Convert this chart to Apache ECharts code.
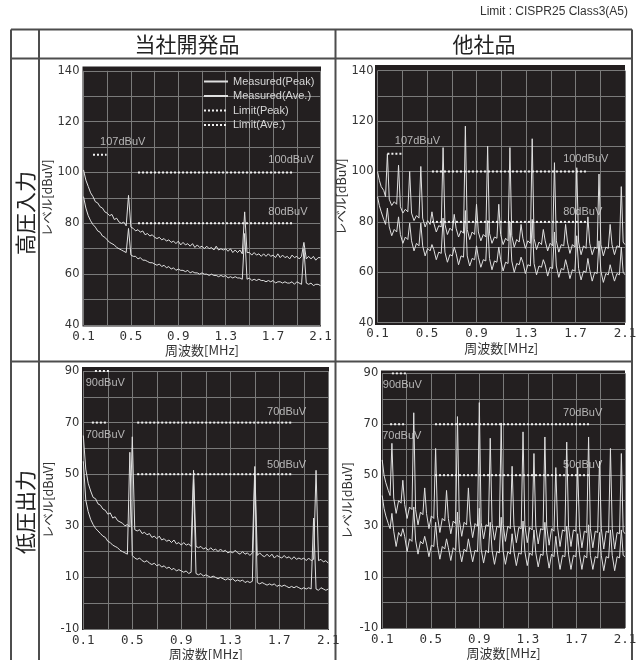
<!DOCTYPE html>
<html>
  <head>
    <meta charset="utf-8">
    <title>伝導ノイズ比較</title>
    <script src="https://cdn.jsdelivr.net/npm/echarts@6/dist/echarts.min.js"></script>
    <style>
      html, body { margin: 0; padding: 0; background: #fff; }
    </style>
  </head>
  <body>
    <div id="chart" style="width: 636px; height: 660px;"></div>
    <script type="text/javascript">
      // frequency grid for our product [MHz]
      var fqOurs = [
        0.10, 0.12, 0.14, 0.16, 0.18, 0.20, 0.22, 0.24, 0.26, 0.28,
        0.30, 0.32, 0.34, 0.36, 0.38, 0.40, 0.42, 0.44, 0.46, 0.48,
        0.50, 0.52, 0.54, 0.56, 0.58, 0.60, 0.62, 0.64, 0.66, 0.68,
        0.70, 0.72, 0.74, 0.76, 0.78, 0.80, 0.82, 0.84, 0.86, 0.88,
        0.90, 0.92, 0.94, 0.96, 0.98, 1.00, 1.02, 1.04, 1.06, 1.08,
        1.10, 1.12, 1.14, 1.16, 1.18, 1.20, 1.22, 1.24, 1.26, 1.28,
        1.30, 1.32, 1.34, 1.36, 1.38, 1.40, 1.42, 1.44, 1.46, 1.48,
        1.50, 1.52, 1.54, 1.56, 1.58, 1.60, 1.62, 1.64, 1.66, 1.68,
        1.70, 1.72, 1.74, 1.76, 1.78, 1.80, 1.82, 1.84, 1.86, 1.88,
        1.90, 1.92, 1.94, 1.96, 1.98, 2.00, 2.02, 2.04, 2.06, 2.08,
        2.10
      ];
      // 高圧入力 / 当社開発品
      var pkHiOurs = [
        101, 97, 94.5, 92, 90.5, 88.5, 88, 86.5, 86, 84.5,
        84, 83, 83.5, 81.5, 82, 80.5, 80, 80.5, 79, 91,
        78.5, 78, 77, 77.5, 76.5, 77, 75.5, 76, 75, 75.5,
        74.5, 74, 74.5, 73.5, 74, 73, 73.5, 72.5, 73, 72,
        73, 71.5, 72.5, 71.5, 72, 71, 72, 70.5, 71.5, 70.5,
        71, 70, 71, 70, 70.5, 69.5, 71, 69.5, 70, 69.5,
        70, 69, 70, 68.5, 69.5, 68.5, 69.5, 68, 84.5, 68.5,
        68.5, 67.5, 68.5, 67.5, 68, 67, 68, 67, 68, 67,
        67.5, 66.5, 68, 66.5, 67.5, 66.5, 67, 66, 67.5, 66.5,
        67, 66, 67, 72.5, 66, 67, 66, 67, 65.5, 66.5,
        66.5
      ];
      var avHiOurs = [
        90.5, 86, 83, 81, 79.5, 78.5, 77, 76.5, 75, 74.5,
        73.5, 72.5, 72, 71.5, 70.5, 70, 69.5, 69, 68.5, 78,
        67.5, 67, 67, 66, 66.5, 65.5, 65.5, 65, 64.5, 64.5,
        64, 63.5, 64, 63, 63.5, 62.5, 63, 62, 62.5, 61.5,
        62, 61.5, 61.5, 61, 61.5, 60.5, 61, 60.5, 60.5, 60,
        60.5, 60, 60, 59.5, 60, 59.5, 59.5, 59, 59.5, 59,
        59.5, 58.5, 59, 58.5, 59, 58.5, 58.5, 58, 76, 58,
        58.5, 57.5, 58, 57.5, 58, 57.5, 57.5, 57, 57.5, 57,
        57.5, 56.5, 57, 57, 56.5, 57, 56.5, 56.5, 57, 56,
        57, 56.5, 56, 70, 56.5, 56, 56.5, 55.5, 56, 56,
        55.5
      ];
      // 低圧出力 / 当社開発品
      var pkLoOurs = [
        65, 52, 46.5, 43.5, 41, 40.5, 38.5, 38, 36.5, 36,
        34.5, 35, 33, 33.5, 32, 31.5, 31, 30, 30.5, 29.5,
        64.5, 28.5, 28, 28.5, 27, 27.5, 26.5, 27, 25.5, 26,
        25, 26, 24.5, 25, 24, 24.5, 23.5, 24.5, 23, 23.5,
        22.5, 23.5, 22.5, 23, 22, 51.5, 22, 21.5, 22, 21,
        21.5, 20.5, 21.5, 20.5, 21, 20, 21, 20, 20.5, 19.5,
        20, 19.5, 20.5, 19.5, 19, 20, 19, 19.5, 18.5, 19.5,
        53, 18.5, 19.5, 18.5, 18, 19, 18, 19, 17.5, 18.5,
        18, 17.5, 18.5, 17.5, 18, 17, 18, 17, 17.5, 17,
        17.5, 16.5, 17.5, 16.5, 17, 51.5, 16.5, 17, 16, 16.5,
        15.5
      ];
      var avLoOurs = [
        55, 40, 35.5, 32.5, 30.5, 29, 28, 27, 26, 25.5,
        24, 23.5, 22.5, 22, 21.5, 20.5, 20, 19.5, 19, 58.5,
        18.5, 17.5, 17, 17.5, 16.5, 16, 16.5, 15.5, 15, 15.5,
        14.5, 15, 14, 14.5, 13.5, 14, 13, 13.5, 12.5, 13,
        12.5, 12, 12.5, 11.5, 12, 48, 11.5, 11, 11.5, 10.5,
        11, 10.5, 10, 10.5, 10, 9.5, 10, 9.5, 9, 9.5,
        9, 9.5, 8.5, 9, 8.5, 9, 8, 8.5, 8, 8.5,
        50, 8, 7.5, 8, 7.5, 7, 7.5, 7, 7.5, 6.5,
        7, 6.5, 7, 6.5, 6, 6.5, 6, 6.5, 6, 5.5,
        6, 5.5, 6, 5.5, 33, 5.5, 5, 6, 5.5, 5,
        5.5
      ];

      // frequency points for the competitor (harmonics every ~0.09 MHz)
      var fqOther = [
        0.10, 0.115, 0.13, 0.15, 0.165,
        0.18, 0.195, 0.215, 0.235, 0.255,
        0.27, 0.285, 0.305, 0.325, 0.345,
        0.36, 0.375, 0.395, 0.415, 0.435,
        0.45, 0.465, 0.485, 0.505, 0.525,
        0.54, 0.555, 0.575, 0.595, 0.615,
        0.63, 0.645, 0.665, 0.685, 0.705,
        0.72, 0.735, 0.755, 0.775, 0.795,
        0.81, 0.825, 0.845, 0.865, 0.885,
        0.90, 0.915, 0.935, 0.955, 0.975,
        0.99, 1.005, 1.025, 1.045, 1.065,
        1.08, 1.095, 1.115, 1.135, 1.155,
        1.17, 1.185, 1.205, 1.225, 1.245,
        1.26, 1.275, 1.295, 1.315, 1.335,
        1.35, 1.365, 1.385, 1.405, 1.425,
        1.44, 1.455, 1.475, 1.495, 1.515,
        1.53, 1.545, 1.565, 1.585, 1.605,
        1.62, 1.635, 1.655, 1.675, 1.695,
        1.71, 1.725, 1.745, 1.765, 1.785,
        1.80, 1.815, 1.835, 1.855, 1.875,
        1.89, 1.905, 1.925, 1.945, 1.965,
        1.98, 1.995, 2.015, 2.035, 2.055,
        2.07, 2.085, 2.10
      ];
      // 高圧入力 / 他社品
      var pkHiOther = [
        100, 96.5, 94, 92.5, 90,
        107, 89, 86.5, 88, 87,
        102.5, 86, 83.5, 85, 84,
        100, 83.5, 80.5, 82.5, 81.5,
        102, 81.5, 78, 80.5, 79,
        84, 79.5, 76, 78.5, 78,
        109.5, 79, 75, 77.5, 76.5,
        83, 77.5, 74, 76.5, 75.5,
        118, 77, 73, 76, 75,
        87, 76, 72.5, 75, 74,
        110, 75.5, 71.5, 74, 73.5,
        87, 75, 71, 73.5, 72.5,
        109.5, 74.5, 70, 73, 72,
        79, 73.5, 69.5, 72.5, 71.5,
        113, 73.5, 69, 72, 71,
        77, 72.5, 68.5, 71.5, 70.5,
        103.5, 72.5, 68, 71, 70.5,
        79, 72, 67.5, 71, 70,
        101.5, 72, 67, 70.5, 69.5,
        82, 71.5, 67, 70, 69.5,
        99, 71, 66.5, 70, 69.5,
        79, 71, 67, 70.5, 70,
        94, 72, 71
      ];
      var avHiOther = [
        90, 86.5, 84, 81, 79,
        85.5, 78, 74.5, 77, 76,
        82, 75, 71.5, 74, 73,
        79.5, 72.5, 68.5, 71.5, 70.5,
        79.5, 70.5, 66.5, 69.5, 68.5,
        71, 69, 65, 68, 67.5,
        81.5, 68, 64, 67, 66.5,
        70, 67.5, 63, 66.5, 66,
        84.5, 66.5, 62.5, 65.5, 65,
        70.5, 66, 62, 65, 64.5,
        80.5, 65.5, 61, 64.5, 64,
        70, 65, 60.5, 64, 63.5,
        80, 64.5, 60, 63.5, 63,
        66, 64, 59.5, 63, 62.5,
        81, 63.5, 59, 62.5, 62,
        65, 63, 58.5, 62, 61.5,
        76, 62.5, 58, 61.5, 61,
        65, 62, 57.5, 61, 60.5,
        74.5, 61.5, 57, 60.5, 60,
        65.5, 61, 56.5, 60, 59.5,
        72.5, 60.5, 56, 59.5, 59,
        63, 60, 56.5, 59.5, 59,
        70, 60, 59
      ];
      // 低圧出力 / 他社品
      var pkLoOther = [
        56, 50, 47, 44, 42,
        62.5, 41, 35, 40, 39,
        48, 38.5, 33, 37.5, 36.5,
        74.5, 36.5, 30.5, 35.5, 34.5,
        45, 35, 29, 34, 33,
        60.5, 34, 27.5, 33, 32,
        44, 33, 27, 32, 31,
        73, 32.5, 26, 31.5, 30.5,
        45, 32, 25.5, 31, 30,
        78.5, 31.5, 25, 30.5, 30,
        64.5, 31, 24.5, 30, 29.5,
        70.5, 31, 24, 30, 29,
        53.5, 30.5, 23.5, 29.5, 29,
        67, 30.5, 23.5, 29.5, 28.5,
        58.5, 30, 23, 29, 28.5,
        65, 30, 22.5, 29, 28,
        53, 29.5, 22, 28.5, 28,
        63, 29.5, 22, 28.5, 28,
        53, 29.5, 21.5, 28, 27.5,
        65, 29, 21.5, 28, 27.5,
        55.5, 29, 21, 28, 27.5,
        60.5, 29, 21, 27.5, 27,
        58.5, 28, 27
      ];
      var avLoOther = [
        42, 37, 34, 31, 29,
        35, 28, 22, 27.5, 26,
        29, 26, 20, 25, 24,
        37.5, 24.5, 19, 24, 23,
        26, 23, 18, 22.5, 22,
        31.5, 22.5, 17, 22, 21,
        25, 21.5, 16.5, 21.5, 20.5,
        35.5, 21, 16, 21, 20,
        25, 21, 16, 20.5, 20,
        37, 21, 15.5, 20.5, 19.5,
        31.5, 20.5, 15, 20, 19.5,
        33.5, 20.5, 15, 20, 19,
        27, 20, 14.5, 19.5, 19,
        32, 20, 14.5, 19.5, 18.5,
        28.5, 19.5, 14, 19, 18.5,
        31.5, 19.5, 13.5, 19, 18,
        26, 19, 13, 18.5, 18,
        30, 19, 13, 18.5, 18,
        27, 19, 13, 18.5, 17.5,
        30.5, 18.5, 13, 18, 17.5,
        27.5, 18.5, 12.5, 18, 17.5,
        28.5, 18.5, 12.5, 18, 17.5,
        28.5, 18.5, 18
      ];

      // limit segments: [from MHz, to MHz, dBuV]
      var limHiOursPk = [[0.18, 0.295, 107], [0.56, 1.86, 100]];
      var limHiOursAv = [[0.56, 1.86, 80]];
      var limHiOtherPk = [[0.18, 0.295, 107], [0.54, 1.80, 100]];
      var limHiOtherAv = [[0.54, 1.80, 80]];
      var limLoOursPk = [[0.195, 0.315, 90], [0.54, 1.80, 70]];
      var limLoOursAv = [[0.17, 0.30, 70], [0.54, 1.80, 50]];
      var limLoOtherPk = [[0.18, 0.30, 90], [0.535, 1.81, 70]];
      var limLoOtherAv = [[0.165, 0.29, 70], [0.535, 1.81, 50]];

      // limit captions: [MHz, dBuV, text]
      var capHiOurs = [[0.24, 112, '107dBuV'], [1.66, 105, '100dBuV'], [1.66, 84.5, '80dBuV']];
      var capHiOther = [[0.24, 112, '107dBuV'], [1.60, 105, '100dBuV'], [1.60, 84, '80dBuV']];
      var capLoOurs = [[0.12, 85.2, '90dBuV'], [0.12, 65.2, '70dBuV'], [1.60, 74, '70dBuV'], [1.60, 53.6, '50dBuV']];
      var capLoOther = [[0.105, 85.6, '90dBuV'], [0.10, 65.5, '70dBuV'], [1.59, 74.3, '70dBuV'], [1.59, 54, '50dBuV']];

      var colHeads = ['当社開発品', '他社品'];
      var rowHeads = ['高圧入力', '低圧出力'];
      var legendNames = ['Measured(Peak)', 'Measured(Ave.)', 'Limit(Peak)', 'Limit(Ave.)'];

      var JP = "'Noto Sans CJK JP', sans-serif";
      var LAT = "'Liberation Sans', Arial, sans-serif";
      var TRACE = '#e0e0e0';
      var LIMIT = '#f2f2f2';
      var PLOT_BG = '#231f20';
      var RULE = '#4d4d4d';

      var grids = [
        { left: 83.5, top: 70.8, width: 237, height: 254.2 },
        { left: 377.5, top: 70.7, width: 247.5, height: 252 },
        { left: 83.3, top: 371, width: 245, height: 258 },
        { left: 382.2, top: 373.3, width: 242.8, height: 254.7 }
      ];
      var yRanges = [[40, 140], [40, 140], [-10, 90], [-10, 90]];

      function xAx(k) {
        return {
          type: 'value', gridIndex: k, min: 0.1, max: 2.1, interval: 0.2,
          name: '周波数[MHz]', nameLocation: 'middle', nameGap: 13.5,
          nameTextStyle: { fontFamily: JP, fontSize: 13, color: '#333' },
          axisLine: { show: false }, axisTick: { show: false },
          splitLine: { show: true, lineStyle: { color: '#7a7a7a', width: 1 } },
          axisLabel: {
            margin: 5, color: '#333', fontFamily: 'DejaVu Sans Mono', fontSize: 12.5,
            formatter: function (v, idx) { return idx % 2 ? '' : v.toFixed(1); }
          }
        };
      }
      function yAx(k) {
        return {
          type: 'value', gridIndex: k, min: yRanges[k][0], max: yRanges[k][1], interval: 10,
          name: 'レベル[dBuV]', nameLocation: 'middle', nameGap: 29,
          nameTextStyle: { fontFamily: JP, fontSize: 12.5, color: '#333' },
          axisLine: { show: false }, axisTick: { show: false },
          splitLine: { show: true, lineStyle: { color: '#7a7a7a', width: 1 } },
          axisLabel: {
            margin: 4, color: '#333', fontFamily: 'DejaVu Sans', fontSize: 11.5,
            formatter: function (v, idx) { return idx % 2 ? '' : String(v); }
          }
        };
      }

      function trace(name, k, fq, vals) {
        return {
          type: 'line', name: name, xAxisIndex: k, yAxisIndex: k,
          data: fq.map(function (f, i) { return [f, vals[i]]; }),
          symbol: 'none', z: 3, silent: true,
          lineStyle: { color: TRACE, width: 1 },
          itemStyle: { color: TRACE }
        };
      }
      function limits(name, k, segs) {
        return segs.map(function (s) {
          return {
            type: 'line', name: name, xAxisIndex: k, yAxisIndex: k,
            data: [[s[0], s[2]], [s[1], s[2]]],
            symbol: 'none', z: 4, silent: true,
            lineStyle: { color: LIMIT, width: 2, type: [2, 2] },
            itemStyle: { color: LIMIT }
          };
        });
      }
      function captions(k, caps) {
        return {
          type: 'scatter', xAxisIndex: k, yAxisIndex: k, symbolSize: 0, z: 5, silent: true,
          data: caps,
          label: {
            show: true, position: 'right', distance: 0,
            color: '#dadada', fontFamily: LAT, fontSize: 11,
            formatter: function (p) { return p.data[2]; }
          }
        };
      }

      var panels = [
        { fq: fqOurs, pk: pkHiOurs, av: avHiOurs, lp: limHiOursPk, la: limHiOursAv, cap: capHiOurs },
        { fq: fqOther, pk: pkHiOther, av: avHiOther, lp: limHiOtherPk, la: limHiOtherAv, cap: capHiOther },
        { fq: fqOurs, pk: pkLoOurs, av: avLoOurs, lp: limLoOursPk, la: limLoOursAv, cap: capLoOurs },
        { fq: fqOther, pk: pkLoOther, av: avLoOther, lp: limLoOtherPk, la: limLoOtherAv, cap: capLoOther }
      ];

      var series = [];
      panels.forEach(function (p, k) {
        series.push(trace(legendNames[0], k, p.fq, p.pk));
        series.push(trace(legendNames[1], k, p.fq, p.av));
        series = series.concat(limits(legendNames[2], k, p.lp));
        series = series.concat(limits(legendNames[3], k, p.la));
        series.push(captions(k, p.cap));
      });

      // table frame and dark plot backgrounds
      var plotBg = [
        [82.5, 66.5, 238.5, 260], [375, 65, 250, 260],
        [82, 367, 247, 263], [381, 370.5, 244, 258.5]
      ];
      var graphics = plotBg.map(function (r) {
        return { type: 'rect', z: -1, silent: true, shape: { x: r[0], y: r[1], width: r[2], height: r[3] }, style: { fill: PLOT_BG } };
      });
      var rules = [
        [11, 29.5, 632, 29.5], [11, 58.5, 632, 58.5], [11, 361.5, 632, 361.5],
        [11, 29.5, 11, 660], [39, 29.5, 39, 660], [335.5, 29.5, 335.5, 660], [632, 29.5, 632, 660]
      ];
      rules.forEach(function (l) {
        graphics.push({ type: 'line', silent: true, shape: { x1: l[0], y1: l[1], x2: l[2], y2: l[3] }, style: { stroke: RULE, lineWidth: 2 } });
      });
      graphics.push({ type: 'text', x: 187, y: 44, silent: true, style: { text: colHeads[0], font: '21px ' + JP, fill: '#222', align: 'center', verticalAlign: 'middle' } });
      graphics.push({ type: 'text', x: 484, y: 44, silent: true, style: { text: colHeads[1], font: '21px ' + JP, fill: '#222', align: 'center', verticalAlign: 'middle' } });
      graphics.push({ type: 'text', x: 25, y: 213, rotation: Math.PI / 2, silent: true, style: { text: rowHeads[0], font: '21px ' + JP, fill: '#222', align: 'center', verticalAlign: 'middle' } });
      graphics.push({ type: 'text', x: 25, y: 512, rotation: Math.PI / 2, silent: true, style: { text: rowHeads[1], font: '21px ' + JP, fill: '#222', align: 'center', verticalAlign: 'middle' } });
      graphics.push({ type: 'text', x: 628, y: 12, silent: true, style: { text: 'Limit : CISPR25 Class3(A5)', font: '12px ' + LAT, fill: '#333', align: 'right', verticalAlign: 'middle' } });

      var chartElem = echarts.init(document.getElementById('chart'), null, { renderer: 'canvas' });
      chartElem.setOption({
        animation: false,
        grid: grids.map(function (g) { return Object.assign({ outerBoundsMode: 'none' }, g); }),
        xAxis: [0, 1, 2, 3].map(xAx),
        yAxis: [0, 1, 2, 3].map(yAx),
        legend: {
          left: 203, top: 76, orient: 'vertical', padding: 0,
          itemWidth: 24, itemHeight: 10, itemGap: 3.5, selectedMode: false,
          itemStyle: { opacity: 0 },
          textStyle: { color: '#d6d6d6', fontFamily: LAT, fontSize: 11 },
          data: legendNames
        },
        graphic: { elements: graphics },
        series: series
      });
    </script>
  </body>
</html>
